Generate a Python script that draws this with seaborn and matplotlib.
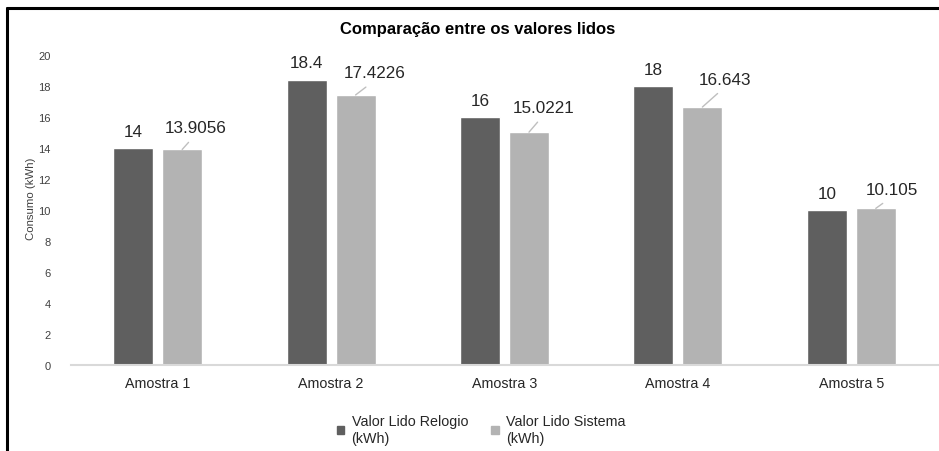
import matplotlib
matplotlib.use("Agg")
import matplotlib.pyplot as plt
from matplotlib.lines import Line2D
import seaborn as sns
import pandas as pd

# Data
amostras = ["Amostra 1", "Amostra 2", "Amostra 3", "Amostra 4", "Amostra 5"]
relogio = [14, 18.4, 16, 18, 10]
sistema = [13.9056, 17.4226, 15.0221, 16.643, 10.105]
serie_relogio = "Valor Lido Relogio\n(kWh)"
serie_sistema = "Valor Lido Sistema\n(kWh)"
y_ticks = [0, 2, 4, 6, 8, 10, 12, 14, 16, 18, 20]

# Callout offsets (pixels) for the "Sistema" labels
callout_dx = [13, 19, 15, 23, 16]
callout_dy = [22, 22, 25, 28, 19]

sns.set_theme(style="white")
FONT = ["Liberation Sans", "DejaVu Sans"]
TITLE_FONT = ["Liberation Sans Narrow", "Liberation Sans", "DejaVu Sans"]
plt.rcParams["font.family"] = FONT

df = pd.DataFrame({
    "Amostra": amostras * 2,
    "Consumo": relogio + sistema,
    "Serie": [serie_relogio] * len(amostras) + [serie_sistema] * len(amostras),
})

fig = plt.figure(figsize=(9.39, 4.52), dpi=100)
ax = fig.add_axes([71 / 939, 1 - 366 / 452, 867 / 939, 310 / 452])

palette = {serie_relogio: "#5f5f5f", serie_sistema: "#b3b3b3"}
sns.barplot(data=df, x="Amostra", y="Consumo", hue="Serie", palette=palette,
            width=0.565, gap=0.18, saturation=1, ax=ax, legend=True)

ax.set_ylim(0, 20)
ax.set_yticks(y_ticks)
ax.set_yticklabels([str(t) for t in y_ticks], fontsize=8, color="#404040")
ax.tick_params(axis="y", length=0, pad=14.5)
ax.tick_params(axis="x", length=0, pad=8, labelsize=10.3, labelcolor="#262626")
ax.set_xlabel("")
ax.set_ylabel("Consumo (kWh)", fontsize=8.2, color="#404040")
ax.yaxis.set_label_coords(-0.040, 0.54)
for side in ["top", "right", "left"]:
    ax.spines[side].set_visible(False)
ax.spines["bottom"].set_color("#d9d9d9")
ax.spines["bottom"].set_linewidth(1.5)

# Value labels
dark_bars, light_bars = ax.containers[0], ax.containers[1]
for bar, v in zip(dark_bars, relogio):
    ax.annotate(f"{v:g}", (bar.get_x() + bar.get_width() / 2, v),
                xytext=(0, 17), textcoords="offset pixels",
                ha="center", va="center", fontsize=12.3, color="#262626")
for bar, v, dx, dy in zip(light_bars, sistema, callout_dx, callout_dy):
    ax.annotate(f"{v:g}", (bar.get_x() + bar.get_width() / 2, v),
                xytext=(dx, dy), textcoords="offset pixels",
                ha="center", va="center", fontsize=12.3, color="#262626",
                arrowprops=dict(arrowstyle="-", color="#bfbfbf", lw=1,
                                relpos=(0.5, 0), shrinkA=4, shrinkB=0))

ax.set_title("Comparação entre os valores lidos", fontsize=12, fontweight="bold",
             family=TITLE_FONT, color="#000000", x=(478 - 71) / 867, y=1.0, pad=16)

# Legend below the plot
ax.get_legend().remove()
handles = [plt.Rectangle((0, 0), 1, 1, color=palette[s]) for s in (serie_relogio, serie_sistema)]
leg = fig.legend(handles, [serie_relogio, serie_sistema], loc="upper center",
                 bbox_to_anchor=(481 / 939, 1 - 402 / 452), ncol=2, frameon=False,
                 fontsize=10.3, handlelength=0.55, handleheight=0.55,
                 handletextpad=0.5, columnspacing=1.6, labelcolor="#262626")
for t in leg.get_texts():
    t.set_linespacing(1.3)

# Outer frame lines
fig.add_artist(Line2D([7 / 939, 1], [1 - 9 / 452, 1 - 9 / 452], color="black", lw=2.2,
                      transform=fig.transFigure))
fig.add_artist(Line2D([7 / 939, 7 / 939], [0, 1 - 9 / 452], color="black", lw=2.2,
                      transform=fig.transFigure))

fig.savefig("out.png", dpi=100)
